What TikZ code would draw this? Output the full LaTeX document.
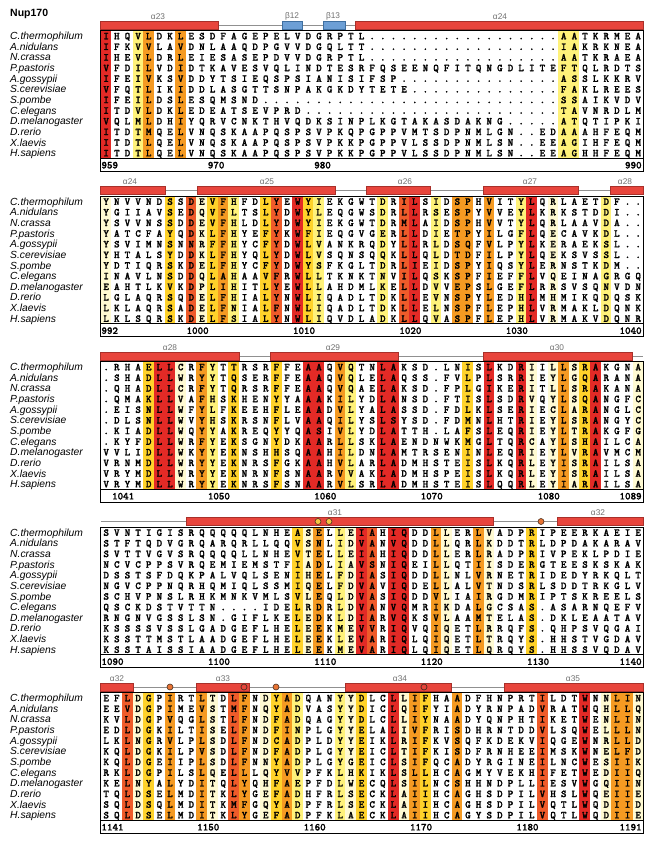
\documentclass[tikz,border=0pt]{standalone}
\usepackage{fontspec}
\newfontfamily\lsans{Liberation Sans}
\newfontfamily\seqfont{lmmonolt10-bold.otf}[FakeBold=1.6]
\definecolor{cR}{HTML}{E32A26}
\definecolor{cO}{HTML}{EF5B2A}
\definecolor{cA}{HTML}{F59A22}
\definecolor{cG}{HTML}{FFD22A}
\definecolor{cY}{HTML}{FFF27A}
\definecolor{cP}{HTML}{FFFAD2}
\definecolor{hred}{HTML}{E8453C}
\definecolor{hdark}{HTML}{A8302A}
\definecolor{sblue}{HTML}{6D9FD5}
\definecolor{sdark}{HTML}{3F6FA0}
\definecolor{labgray}{HTML}{707070}
\definecolor{lgray}{HTML}{909090}
\definecolor{cyel}{HTML}{F6C443}
\definecolor{corg}{HTML}{E97434}
\definecolor{cdark}{HTML}{4A3020}
\newcommand\seqcells[1]{\seqcellsA#1\relax}
\def\seqcellsA#1{\ifx\relax#1\else\makebox[10.64pt]{#1}\expandafter\seqcellsA\fi}
\newcommand\srow[2]{\node[seqtxt,anchor=base west] (s\blk-#1) at (100.68,{(#1-1)*10.64+3.3}) {\seqcells{#2}};}
\newcommand\species{\foreach \nm [count=\i] in {C.thermophilum,A.nidulans,N.crassa,P.pastoris,A.gossypii,S.cerevisiae,S.pombe,C.elegans,D.melanogaster,D.rerio,X.laevis,H.sapiens} {\node[nametxt,anchor=base west] (n\blk-\i) at (10,{(\i-1)*10.64+3.7}) {\nm};}}
\newcommand\stripes[1]{\foreach \j/\c in {#1} {\fill[\c] ({100.68+(\j-1)*10.64},-5.32) rectangle ++(10.64,127.68);}}
\newcommand\seqframe{\draw[boxline] (100.68,-5.32) rectangle (643.32,135); \draw[boxline] (100.68,122.36) -- (643.32,122.36);}
\newcommand\ssbase{\draw[ssline] (100.68,-11) -- (643.32,-11);}
\newcommand\helix[5]{\draw[helixst] (#1,-15) rectangle (#2,-7); \node[sslabel] (#4) at (#3,-19.8) {#5};}
\newcommand\strand[5]{\draw[strandst] (#1,-15) rectangle (#2,-7); \node[sslabel] (#4) at (#3,-19.8) {#5};}
\newcommand\posnum[2]{\node[numtxt,anchor=base west] (num#2) at ({100.68+(#1-1)*10.64+0.6},132.4) {#2};}
\newcommand\posnumlast[1]{\node[numtxt,anchor=base east] (num#1) at (641.8,132.4) {#1};}
\begin{document}
\begin{tikzpicture}[x=1pt,y=-1pt,
  seqtxt/.style={font=\seqfont\fontsize{10.5}{12}\selectfont, inner sep=0pt},
  nametxt/.style={font=\lsans\itshape\fontsize{10.3}{12}\selectfont, inner sep=0pt},
  numtxt/.style={font=\seqfont\fontsize{10.5}{12}\selectfont, inner sep=0pt},
  sslabel/.style={font=\lsans\fontsize{8.3}{10}\selectfont, text=labgray, inner sep=0pt},
  helixst/.style={fill=hred, draw=hdark, line width=0.5pt},
  strandst/.style={fill=sblue, draw=sdark, line width=0.5pt},
  ssline/.style={draw=lgray, line width=0.8pt},
  boxline/.style={draw=black, line width=1pt},
  dotY/.style={fill=cyel, draw=cdark, line width=0.6pt},
  dotO/.style={fill=corg, draw=cdark, line width=0.6pt},
  dotE/.style={draw=cdark, line width=0.7pt}]
\useasboundingbox[fill=white] (0,0) rectangle (650,843);
\node[font=\lsans\bfseries\fontsize{10.5}{12}\selectfont, inner sep=0pt, anchor=base west] (title) at (10,16.6) {Nup170};

% ---------------- block 1 ----------------
\begin{scope}[shift={(0,36)}]
\def\blk{1}
\ssbase
\helix{100.68}{218}{158}{a23}{α23}
\strand{282}{302}{292}{b12}{β12}
\strand{323}{345}{333}{b13}{β13}
\helix{355}{643.32}{500}{a24a}{α24}
\stripes{1/cR,4/cY,5/cA,8/cA,44/cY,45/cY}
\species
\srow{1}{IHQVLDKLESDFAGEPELVDGRPTL..................AATKRMEA}
\srow{2}{IFKVVLAVDNLAAQDPGVVDGQLTT..................IAKRKNEA}
\srow{3}{IHEVLDRLEIESASEPDVVDGRPTL..................AATKRAEA}
\srow{4}{VFDILVDIDTKAVESVQLINDTESRFQSEENQFITQNGDLITEFTQLRDTS}
\srow{5}{IFEIVKSVDDYTSIEQSPSIANISIFSP...............ASSLKKRV}
\srow{6}{VFQTLIKIDDLASGTTSNPAKGKDYTETE..............FAKLREES}
\srow{7}{IFEILDSLESQMSND............................SSAIKVDV}
\srow{8}{ITDVLDKLEDEATSEVPRD........................TAVNRDLM}
\srow{9}{VQLMLDHIYQRVCNKTHVQDKSINPLKGTAKASDAKNG.....ATQTIPKI}
\srow{10}{ITDTMQELVNQSKAAPQSPSVPKQPGPPVMTSDPNMLGN..EDAAAHFEQM}
\srow{11}{ITDTLQELVNQSKAAPQSPSVPKKPGPPVLSSDPNMLSN..EEAGIHFEQM}
\srow{12}{ITDTLQELVNQSKAAPQSPSVPKKPGPPVLSSDPNMLSN..EEAGHHFEQM}
\posnum{1}{959}\posnum{11}{970}\posnum{21}{980}\posnumlast{990}
\seqframe
\end{scope}

% ---------------- block 2 ----------------
\begin{scope}[shift={(0,201.5)}]
\def\blk{2}
\ssbase
\helix{100.68}{165}{130}{a24b}{α24}
\helix{197}{335}{267}{a25}{α25}
\helix{366}{430}{405}{a26}{α26}
\helix{483}{578}{530}{a27}{α27}
\helix{610}{643.32}{625}{a28a}{α28}
\stripes{1/cP,7/cG,9/cO,10/cP,11/cG,12/cA,13/cY,16/cG,17/cO,19/cR,20/cG,21/cY,27/cY,29/cO,30/cR,32/cY,34/cA,35/cA,37/cA,40/cY,41/cR,43/cP,48/cY}
\species
\srow{1}{YNVVNDSSDEVFHFDLYEWYIEKGWTDRILSIDSPHVITYLQRLAETDF..}
\srow{2}{YGIIAVSEDQVFLTSLYDWYLEQGWSDRLLRSESPYVVEYLKRKSTDDI..}
\srow{3}{YSVVNSSDDEVFHLDLYDWYIEKGWTDRMLAIDSPHVVTYLQRLAAVDA..}
\srow{4}{YATCFAYQDKLFHYEFYKWFIEQGVGERLLDIETPYILGFLQECAVKDL..}
\srow{5}{YSVIMNSNNRFFHYCFYDWLVANKRQDYLLRLDSQFVLPYLKERAEKSL..}
\srow{6}{YHTALSYDDKLFHYQLYDWLVSQNSQQKLLQLDTDFILPYLQEKSVSSL..}
\srow{7}{YDTIQRSKDELFHYCFYDWYSFKGLTDRLIEIDSPYIQSYLERNSTKDM..}
\srow{8}{INAVLNSDDQLAHAAVFRWLLTKNKTNVILQSKSPFIEFFLVQEINAGRGQ}
\srow{9}{EAHTLKVKDPLIHITLYEWLLAHDMLKELLDVVEPSLGEFLRRSVSQNVDN}
\srow{10}{LGLAQRSQDELFHIALYNWLIQADLTDKLLEVNSPYLEDHLMHMIKQDQSK}
\srow{11}{LKLAQRSADELFNIALFNWLIQADLTDKLLELNSPFLEPHLVRMAKLDQNK}
\srow{12}{LKLSQRSKDELFSIALYNWLIQVDLADKLLQVASPFLEPHLVRMAKVDQNR}
\posnum{1}{992}\posnum{9}{1000}\posnum{19}{1010}\posnum{29}{1020}\posnum{39}{1030}\posnumlast{1040}
\seqframe
\end{scope}

% ---------------- block 3 ----------------
\begin{scope}[shift={(0,367)}]
\def\blk{3}
\ssbase
\helix{100.68}{239}{170}{a28b}{α28}
\helix{270}{398}{333}{a29}{α29}
\helix{483}{632}{557}{a30}{α30}
\stripes{5/cG,6/cR,7/cR,8/cP,10/cA,11/cY,13/cG,17/cG,20/cR,21/cR,23/cA,24/cY,27/cR,28/cR,35/cG,37/cR,40/cR,41/cP,43/cP,44/cA,45/cP,46/cG,47/cR,51/cP}
\species
\srow{1}{.RHAELLCRFYTTRSRFFEAAQVQTNLAKSD.LNISLKDRIILLSRAKGNA}
\srow{2}{.SHADLLWRYYTQSERFFEAAQVQLELAQSS.FVLPLSRRIEYLGQARANA}
\srow{3}{.QHADLLCRFYTQRSRFFEAAQVQAELAKSD.FPLGIKERITLLSRAKANA}
\srow{4}{.QMAKLLVAFHSKHENYYAAAKILYDLANSD.FTISLSDRVQYLSQANGFC}
\srow{5}{.EISNLLWFYLFKEEHFLEAADVLYALASSD.FDLKLSERIECLARANGLC}
\srow{6}{.DLSNLLWVYHSKRSNFLVAAQILYSLSYSD.FDMNLHTRIEYLSRANGYC}
\srow{7}{.KIADLLWQYYAKREQYYQASIVLYDLATTH.LAFSLEQRIEYLTRAKGFG}
\srow{8}{.KYFDLLWRFYEKSGNYDKAARLLSKLAENDNWKMGLTQRCAYLSHAILCA}
\srow{9}{VVLIDLLWKYYEKNSHHSQAAHILDNLAMTRSENINLEQRIEYLVRAVMCM}
\srow{10}{VRNMDLLWRYYEKNRSFGKAAHVLARLADMHSTEISLKQRLEYISRAILSA}
\srow{11}{VRYMDLLWRYYEKNRNFSNAARVVAKLADMHSPEISLKQRLEYISRAILSA}
\srow{12}{VRYMDLLWRYYEKNRSFSNAARVLSRLADMHSTEISLQQRLEYIARAILSA}
\posnum{2}{1041}\posnum{11}{1050}\posnum{21}{1060}\posnum{31}{1070}\posnum{42}{1080}\posnumlast{1089}
\seqframe
\end{scope}

% ---------------- block 4 ----------------
\begin{scope}[shift={(0,532.5)}]
\def\blk{4}
\ssbase
\helix{186}{493}{335}{a31}{α31}
\helix{557}{643.32}{598}{a32a}{α32}
\draw[dotY] (318,-11) circle (3pt);
\draw[dotY] (329,-11) circle (3pt);
\draw[dotO] (541,-11) circle (3pt);
\stripes{19/cG,20/cP,21/cA,23/cY,24/cP,25/cR,26/cO,28/cR,29/cR,32/cA,33/cP,36/cA,37/cP,41/cG}
\species
\srow{1}{SVNTIGISRQQQQQLNHEASELLEIAHIQDDLLERLVADPRIPEERKAEIE}
\srow{2}{STFTQDVGRQARQRLLQQVSNLIDVANVQDDLLQRLKDDTRLDPDAKARAV}
\srow{3}{SVTTVGVSRQQQQLLNHEVTELLEIAHIQDDLLERLRADPRIVPEKLPDIE}
\srow{4}{NCVCPPSVRQEMIEMSTFIADLIAVSNIQEILLQTIISDERGTEESKSKAK}
\srow{5}{DSSTSFDQKPALVQLSENIHELFDIASIQDDLLNLVRNETRIDEDYRKQLT}
\srow{6}{NGVCPPNQRHQMIQLSSMIQELFDVAVIQDELLALVTNDSRLSDDTRKGLV}
\srow{7}{SCHVPNSLRHKMNKVMLSVLEQLDVASIQDDVLIAIRGDMRIPTSKREELS}
\srow{8}{QSCKDSTVTTN....IDELRDRLDVANVQMRIKDALGCSAS.ASARNQEFV}
\srow{9}{RNGNVGSSLSN.GIFLKELEDKLDIARVQKSVLAAMTELAS.DKLEAATAV}
\srow{10}{KSSSSVSSLGADGEFLHELEEKMEVVRIQVQIQETLRRQFS.QHPSVQGAI}
\srow{11}{KSSTTMSTLAADGEFLHELEEKLEVARIQLQIQETLTRQYS.HHSTVGDAV}
\srow{12}{KSSTAISSIAADGEFLHELEEKMEVARIQLQIQETLQRQYS.HHSSVQDAV}
\posnum{1}{1090}\posnum{11}{1100}\posnum{21}{1110}\posnum{31}{1120}\posnum{41}{1130}\posnumlast{1140}
\seqframe
\end{scope}

% ---------------- block 5 ----------------
\begin{scope}[shift={(0,698)}]
\def\blk{5}
\ssbase
\helix{100.68}{133}{117}{a32b}{α32}
\helix{196}{249}{223}{a33}{α33}
\helix{345}{451}{400}{a34}{α34}
\helix{504}{643.32}{573}{a35}{α35}
\draw[dotO] (170,-11) circle (3pt);
\draw[dotO] (276,-11) circle (3pt);
\draw[dotE] (244,-11) circle (3pt);
\draw[dotE] (424,-11) circle (3pt);
\stripes{3/cO,4/cP,5/cG,7/cA,10/cA,11/cP,13/cO,14/cA,16/cP,17/cG,18/cA,19/cY,23/cY,24/cP,25/cG,28/cR,29/cP,30/cA,31/cG,34/cA,42/cO,46/cR,48/cP,49/cA,50/cA,51/cP}
\species
\srow{1}{EFLDGPIRTLTDLFNDYADQANYYDLCLLIFHAADFHNPRTILDTWNNLIN}
\srow{2}{EEVDGPIMEVSTMFNQYADVASYYDICLQIFYIADYRNPADVRATWQHLLQ}
\srow{3}{KVLDGPVQGLSTLFNDFADQAGYYDLCLLIYNAADYQNPHTIKETWENLIN}
\srow{4}{EDLDGKILTISELFNDFINPLGYYELALIVFRISDHRNTDDVLSQWELLLN}
\srow{5}{LKLNGRVLPLSDLFNDCADPLDYYEIKLRIFKVSQFKDEKVIQGEWNRLLD}
\srow{6}{KQLDGKILPVSDLFNDFADPLGYYEICLTIFKISDFRNHEEIMSKWNELFD}
\srow{7}{KQLDGEIIPLSDLFNNYADPLGYGEICLSIFQCADYRGINEILNCWESIIK}
\srow{8}{RKLDGPILSLQELLLQYVVPFKLHKIKLSLLHCAGMYVEKHIFETWEDIIQ}
\srow{9}{KELNYALYDITQLYQHFAEPFDLWECQLSILNCSHHNDPLLIESVWGQIIN}
\srow{10}{TQLDSELMDITKLYGEFADHFRLSECKLAIIHCAGHSDPILVHSLWQEIIE}
\srow{11}{SQLDSQLMDITKMFGQYADPFRLSECKLAIIHCAGHSDPILVQTLWQDIID}
\srow{12}{SQLDSELMDITKLYGEFADPFKLAECKLAIIHCAGYSDPILVQTLWQDIIE}
\posnum{1}{1141}\posnum{10}{1150}\posnum{20}{1160}\posnum{30}{1170}\posnum{40}{1180}\posnumlast{1191}
\seqframe
\end{scope}
\end{tikzpicture}
\end{document}
